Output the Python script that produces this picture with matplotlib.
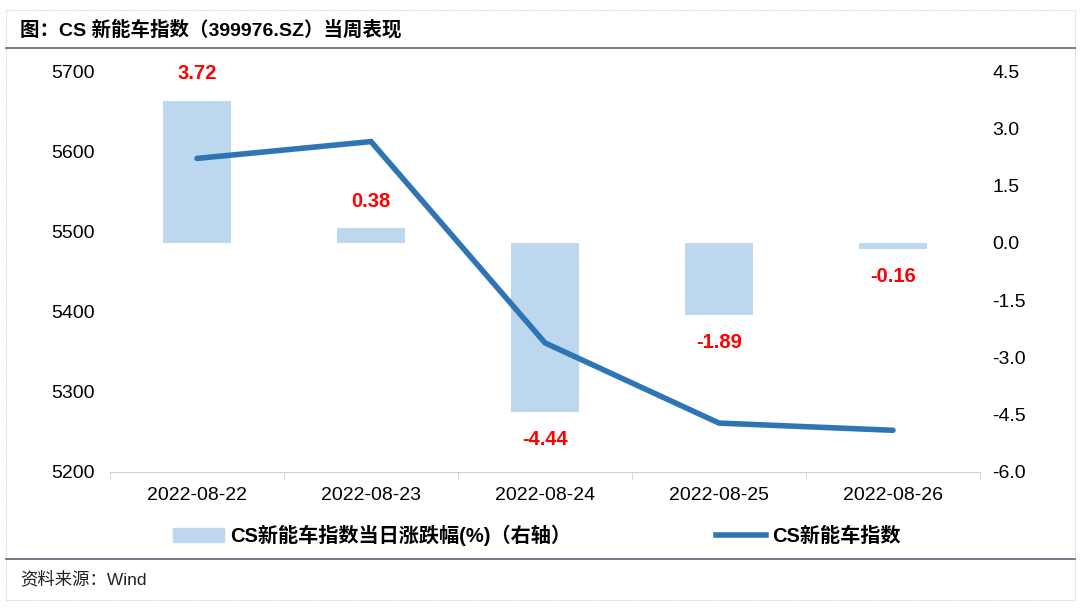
import matplotlib

matplotlib.use("Agg")
import matplotlib.pyplot as plt
from matplotlib.lines import Line2D
from matplotlib.patches import Patch, Rectangle

plt.rcParams["font.family"] = ["Liberation Sans", "Noto Sans CJK SC"]

dates = ["2022-08-22", "2022-08-23", "2022-08-24", "2022-08-25", "2022-08-26"]
index_close = [5591, 5612, 5361, 5261, 5252]
pct_change = [3.72, 0.38, -4.44, -1.89, -0.16]

W, H = 1080, 609
fig = plt.figure(figsize=(W / 100, H / 100), dpi=100)

# cadre pointillé + filets de titre / source
fig.patches.append(Rectangle((6 / W, 1 - 600 / H), 1069 / W, 590 / H, transform=fig.transFigure,
                             fill=False, ec="#d0d0d0", lw=0.8, ls=(0, (1, 1))))
fig.add_artist(Line2D([6 / W, 1075 / W], [1 - 48 / H] * 2, color="#5b6272", lw=1.2))
fig.add_artist(Line2D([6 / W, 1075 / W], [1 - 559 / H] * 2, color="#5b6272", lw=1.2))
fig.text(20 / W, 1 - 30 / H, "图：CS 新能车指数（399976.SZ）当周表现", fontsize=14,
         fontweight="bold", va="center", ha="left")
fig.text(20 / W, 1 - 579 / H, "资料来源：Wind", fontsize=12.5, va="center", ha="left", color="#222222")

ax = fig.add_axes([110 / W, 1 - 472 / H, 870 / W, 401 / H])
ax2 = ax.twinx()
x = list(range(len(dates)))

ax2.bar(x, pct_change, width=0.39, color="#bdd7ee", zorder=1)
ax2.set_ylim(-6.0, 4.5)
right_ticks = [4.5, 3.0, 1.5, 0.0, -1.5, -3.0, -4.5, -6.0]
ax2.set_yticks(right_ticks)
ax2.set_yticklabels([f"{v:.1f}" for v in right_ticks])
for xi, v in zip(x, pct_change):
    ax2.annotate(f"{v:.2f}", (xi, v), xytext=(0, 19.5 if v > 0 else -19.5), textcoords="offset points",
                 ha="center", va="center", color="#ff0000", fontsize=14.5, fontweight="bold")

ax.set_zorder(ax2.get_zorder() + 1)
ax.patch.set_visible(False)
ax.plot(x, index_close, color="#2e75b6", lw=4, solid_capstyle="round", solid_joinstyle="miter")
ax.set_ylim(5200, 5700)
ax.set_yticks(range(5200, 5701, 100))
ax.set_xlim(-0.5, 4.5)
ax.set_xticks(x)
ax.set_xticklabels(dates)
ax.set_xticks([i - 0.5 for i in range(6)], minor=True)

for a in (ax, ax2):
    for s in a.spines.values():
        s.set_visible(False)
    a.tick_params(axis="y", length=0, labelsize=14)
ax.tick_params(axis="y", pad=11)
ax2.tick_params(axis="y", pad=9)
ax.spines["bottom"].set_visible(True)
ax.spines["bottom"].set_color("#d0d0d0")
ax.tick_params(axis="x", which="major", length=0, labelsize=14, pad=11)
ax.tick_params(axis="x", which="minor", length=6, color="#d0d0d0")

handles = [Patch(color="#bdd7ee"), Line2D([], [], color="#2e75b6", lw=4)]
fig.legend(handles, ["CS新能车指数当日涨跌幅(%)（右轴）", "CS新能车指数"], loc="center",
           bbox_to_anchor=(537 / W, 1 - 535 / H), ncol=2, frameon=False, columnspacing=7.2,
           handlelength=2.5, handletextpad=0.3, prop={"size": 14.5, "weight": "bold"})

fig.savefig("out.png", dpi=100)
